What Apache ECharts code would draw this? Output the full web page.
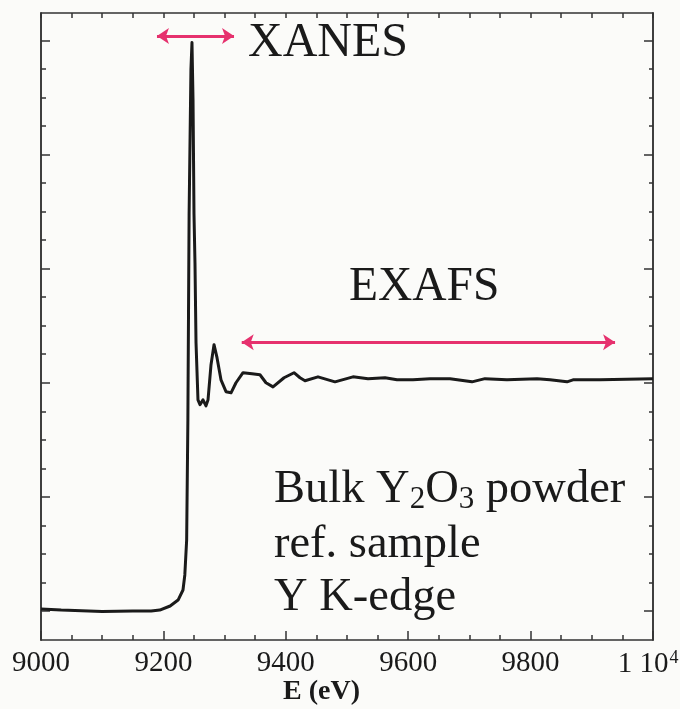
<!DOCTYPE html>
<html>
<head>
<meta charset="utf-8">
<script src="https://cdn.jsdelivr.net/npm/echarts@6/dist/echarts.min.js"></script>
<style>
html,body{margin:0;padding:0;background:#fbfbf9;}
#chart{width:680px;height:709px;}
</style>
</head>
<body>
<div id="chart"></div>
<script>
// Energy (eV) and normalised absorption
const energy = [9000, 9033, 9036, 9100, 9150, 9180, 9194, 9211, 9224, 9232, 9235, 9238, 9240, 9242, 9245, 9246.7, 9248.4, 9250, 9251.6, 9253.3, 9256.5, 9259.8, 9264.7, 9269.6, 9272.9, 9277.8, 9282.7, 9287.6, 9294.1, 9302.3, 9310.5, 9318.6, 9330.1, 9344.8, 9357.8, 9367.6, 9379.1, 9397.1, 9413.4, 9423.2, 9431.4, 9452.6, 9480.4, 9509.8, 9534.3, 9562.1, 9581.7, 9607.8, 9635.6, 9668.3, 9704.2, 9725.5, 9761.4, 9810.5, 9831.7, 9859.5, 9869.3, 9913.4, 10000];
const absorption = [0.009, 0.004, -0.002, -0.002, 0.0, 0.0, 0.004, 0.022, 0.048, 0.092, 0.158, 0.311, 0.838, 1.737, 2.373, 2.491, 2.241, 1.737, 1.526, 1.175, 0.925, 0.904, 0.925, 0.899, 0.925, 1.079, 1.167, 1.110, 1.013, 0.961, 0.956, 1.0, 1.044, 1.039, 1.035, 1.0, 0.982, 1.022, 1.044, 1.022, 1.009, 1.026, 1.004, 1.026, 1.018, 1.022, 1.013, 1.013, 1.018, 1.018, 1.004, 1.018, 1.013, 1.018, 1.013, 1.004, 1.013, 1.013, 1.018];
const xTickLabels = [9000, 9200, 9400, 9600, 9800, 10000];
const yMajorTicks = [0, 0.5, 1, 1.5, 2, 2.5];
const yMinorTicks = [0.125, 0.25, 0.375, 0.625, 0.75, 0.875, 1.125, 1.25, 1.375, 1.625, 1.75, 1.875, 2.125, 2.25, 2.375];
const xanesArrow = [[9189.5, 2.519], [9315.4, 2.519]];
const exafsArrow = [[9328, 1.177], [9938, 1.177]];

const FONT = '"Liberation Serif", "Times New Roman", serif';
const INK = '#1a1a1a';
const AXIS = '#333333';
const PINK = '#e6316e';
const X_MIN = 9000, X_MAX = 10000, Y_MIN = -0.127, Y_MAX = 2.62;

const data = energy.map((e, i) => [e, absorption[i]]);

function yAxis(pos, ticks, len) {
  return {
    type: 'value', position: pos, min: Y_MIN, max: Y_MAX,
    axisLine: {show: true, onZero: false, lineStyle: {color: AXIS, width: 1.5}},
    axisTick: {show: true, inside: true, length: len, customValues: ticks, lineStyle: {color: AXIS, width: 1.5}},
    axisLabel: {show: false},
    splitLine: {show: false}
  };
}

const chart = echarts.init(document.getElementById('chart'), null, {renderer: 'canvas'});
chart.setOption({
  backgroundColor: '#fbfbf9',
  animation: false,
  grid: {left: 41, right: 27, top: 13, bottom: 69, containLabel: false, outerBoundsMode: 'none'},
  xAxis: [
    {
      type: 'value', position: 'bottom', min: X_MIN, max: X_MAX, interval: 200,
      axisLine: {show: true, onZero: false, lineStyle: {color: AXIS, width: 1.5}},
      axisTick: {show: true, inside: true, length: 9, lineStyle: {color: AXIS, width: 1.5}},
      minorTick: {show: true, splitNumber: 4, length: 5, lineStyle: {color: AXIS, width: 1.5}},
      axisLabel: {
        show: true, margin: 9, color: INK, fontFamily: FONT, fontSize: 29,
        showMinLabel: true, showMaxLabel: true,
        customValues: xTickLabels,
        formatter: v => v === 10000 ? '{n|1 10}{s|4}' : String(v),
        rich: {
          n: {fontFamily: FONT, fontSize: 29, color: INK, lineHeight: 30},
          s: {fontFamily: FONT, fontSize: 18, color: INK, lineHeight: 30, verticalAlign: 'top', padding: [0, 10, 0, 1]}
        }
      },
      splitLine: {show: false}
    },
    {
      type: 'value', position: 'top', min: X_MIN, max: X_MAX, interval: 50,
      axisLine: {show: true, onZero: false, lineStyle: {color: AXIS, width: 1.5}},
      axisTick: {show: true, inside: true, length: 5, lineStyle: {color: AXIS, width: 1.5}},
      axisLabel: {show: false},
      splitLine: {show: false}
    }
  ],
  yAxis: [
    yAxis('left', yMajorTicks, 9),
    yAxis('left', yMinorTicks, 5),
    yAxis('right', yMajorTicks, 9),
    yAxis('right', yMinorTicks, 4)
  ],
  series: [
    {
      type: 'line', xAxisIndex: 0, yAxisIndex: 0, data: data,
      showSymbol: false, symbol: 'none', smooth: false,
      lineStyle: {color: INK, width: 3, join: 'round'},
      silent: true,
      markLine: {
        silent: true, symbol: ['arrow', 'arrow'], symbolSize: [12, 12],
        label: {show: false},
        lineStyle: {color: PINK, width: 3, type: 'solid'},
        emphasis: {disabled: true},
        data: [
          [{coord: xanesArrow[0]}, {coord: xanesArrow[1]}],
          [{coord: exafsArrow[0]}, {coord: exafsArrow[1]}]
        ]
      }
    }
  ],
  graphic: [
    {type: 'text', left: 248, top: 19, silent: true,
      style: {text: 'XANES', font: '48px ' + FONT, fill: INK}},
    {type: 'text', left: 349, top: 264, silent: true,
      style: {text: 'EXAFS', font: '47.5px ' + FONT, fill: INK}},
    {type: 'text', left: 274, top: 466, silent: true,
      style: {
        text: '{a|Bulk Y}{b|2}{a|O}{b|3}{a| powder}',
        rich: {
          a: {fontSize: 46.5, fontFamily: FONT, fill: INK, lineHeight: 52},
          b: {fontSize: 31, fontFamily: FONT, fill: INK, lineHeight: 31, verticalAlign: 'bottom'}
        }
      }},
    {type: 'text', left: 274, top: 521, silent: true,
      style: {text: 'ref. sample', font: '46.5px ' + FONT, fill: INK}},
    {type: 'text', left: 274, top: 574, silent: true,
      style: {text: 'Y K-edge', font: '46.5px ' + FONT, fill: INK}},
    {type: 'text', left: 283, top: 678, silent: true,
      style: {text: 'E (eV)', font: 'bold 28px ' + FONT, fill: INK}}
  ]
});
</script>
</body>
</html>
